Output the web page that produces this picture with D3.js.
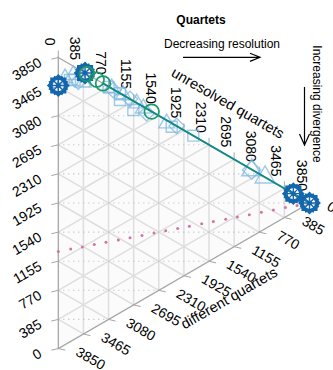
<!DOCTYPE html>
<html><head><meta charset="utf-8">
<script src="https://cdn.jsdelivr.net/npm/d3@7"></script>
<style>body{margin:0;background:#fff}svg{display:block}text{font-family:"Liberation Sans",Arial,Helvetica,sans-serif;fill:#000}</style>
</head><body><svg id="c" width="333" height="370"></svg>
<script>
// ---- data (quartet counts: A = left axis, B = unresolved, C = different) ----
const total = 3850;
const tickValues = [0,385,770,1155,1540,1925,2310,2695,3080,3465,3850];
const tickLabels = ["0","385","770","1155","1540","1925","2310","2695","3080","3465","3850"];
const titleText = "Quartets";
const axisTitleB = "unresolved quartets";
const axisTitleC = "different quartets";
const arrowTextH = "Decreasing resolution";
const arrowTextV = "Increasing divergence";

const darkA = [3480, 3440, 248, 0];
const darkB = [0, 410, 3602, 3850];
const darkC = [370, 0, 0, 0];

const lightA = [3523,3463,3504,3376,3430,3330,3063,3031,2904,3000,2854,2817,2751,2643,2580,2526,2434,2149,2065,2035,1781,879,879,682];
const lightB = [103,179,230,306,250,380,766,818,946,843,996,946,1099,1202,1150,1303,1355,1661,1738,1815,2069,2964,2964,3168];
const lightC = [224,208,117,167,170,140,3,0,0,8,0,89,0,5,120,21,61,40,47,0,0,7,7,0];
const lightShape = ["tri","sq","tri","dia","sq","tri","sq","tri","sq","dia","tri","sq","dia","tri","sq","tri","dia","tri","sq","dia","sq","dia","tri","tri"];

const greenA = [3415, 3261, 3165, 2419];
const greenB = [435, 589, 685, 1431];
const greenC = [0, 0, 0, 0];

const lineA = [3165, 0];
const lineB = [685, 3850];
const lineC = [0, 0];

const pinkA = [1283,1220,1160,1099,1039,976,917,855,794,734,673,614,551,491,428,369,307,246,184,124,64,0];
const pinkB = [0,190,368,552,731,920,1099,1283,1467,1646,1830,2008,2198,2376,2566,2744,2928,3112,3296,3480,3659,3850];
const pinkC = [2567,2440,2322,2199,2080,1954,1834,1712,1589,1470,1347,1228,1101,983,856,737,615,492,370,246,127,0];

// ---- geometry ----
const Tx = 58.3, Ty = 57.5, W = 251.2, H = 291;
const bx = d3.scaleLinear().domain([0,total]).range([0,W]);
const by = d3.scaleLinear().domain([0,total]).range([0,H/2]);
const cy = d3.scaleLinear().domain([0,total]).range([0,H]);
function P(A,B,C){ const s=A+B+C; const b=B*total/s, c=C*total/s; return [Tx+bx(b), Ty+by(b)+cy(c)]; }

const svg = d3.select("#c");
const vTop = P(total,0,0), vRight = P(0,total,0), vBottom = P(0,0,total);

svg.append("path").attr("d", d3.line()([vTop,vRight,vBottom])+"Z").attr("fill","#fbfbfb").attr("stroke","none");

const g = svg.append("g").attr("stroke","#dedede").attr("stroke-width",1.5).attr("fill","none");
tickValues.slice(1,-1).forEach(v=>{
  g.append("path").attr("d", d3.line()([P(total-v,v,0), P(0,v,total-v)]));
  g.append("path").attr("d", d3.line()([P(v,total-v,0), P(v,0,total-v)]));
  g.append("path").attr("d", d3.line()([P(total-v,0,v), P(0,total-v,v)]));
});
const hg = svg.append("g").attr("stroke","#b8b8b8").attr("stroke-width",1.1).attr("stroke-dasharray","1,4").attr("fill","none");
tickValues.slice(1,-1).forEach(v=>{
  const y = Ty + cy(v);
  let xr;
  if (y <= vRight[1]) xr = Tx + (y-Ty)/(vRight[1]-Ty)*(vRight[0]-Tx);
  else xr = Tx + (vBottom[1]-y)/(vBottom[1]-vRight[1])*(vRight[0]-Tx);
  hg.append("path").attr("d", d3.line()([[Tx,y],[xr,y]]));
});

svg.append("path").attr("d", d3.line()([vTop,vRight,vBottom])+"Z").attr("fill","none").attr("stroke","#a6a6a6").attr("stroke-width",1.3);

const tk = svg.append("g").attr("stroke","#a6a6a6").attr("stroke-width",1);
const lab = svg.append("g").attr("font-size",14);
tickValues.forEach((v,i)=>{
  let p = P(v,0,total-v);
  tk.append("line").attr("x1",p[0]).attr("y1",p[1]).attr("x2",p[0]-7).attr("y2",p[1]+1.7);
  let q = [p[0]-18, p[1]+3.5];
  lab.append("text").attr("transform",`translate(${q[0]},${q[1]}) rotate(-30)`).attr("text-anchor","end").attr("dominant-baseline","central").text(tickLabels[i]);
  p = P(total-v,v,0);
  tk.append("line").attr("x1",p[0]).attr("y1",p[1]).attr("x2",p[0]).attr("y2",p[1]-7);
  q = [p[0]-8, p[1]-12];
  lab.append("text").attr("transform",`translate(${q[0]},${q[1]}) rotate(90)`).attr("text-anchor","end").attr("dominant-baseline","central").text(tickLabels[i]);
  p = P(0,total-v,v);
  tk.append("line").attr("x1",p[0]).attr("y1",p[1]).attr("x2",p[0]+7).attr("y2",p[1]+1.7);
  q = [p[0]+19, p[1]+2];
  lab.append("text").attr("transform",`translate(${q[0]},${q[1]}) rotate(30)`).attr("text-anchor","start").attr("dominant-baseline","central").text(tickLabels[i]);
});

svg.append("text").attr("transform","translate(228,103) rotate(30)").attr("text-anchor","middle").attr("dominant-baseline","central").attr("font-size",14.5).text(axisTitleB);
svg.append("text").attr("transform","translate(229,298) rotate(-30)").attr("text-anchor","middle").attr("dominant-baseline","central").attr("font-size",14.5).text(axisTitleC);

svg.append("g").selectAll("circle").data(pinkA.map((a,i)=>P(a,pinkB[i],pinkC[i]))).join("circle")
  .attr("cx",d=>d[0]).attr("cy",d=>d[1]).attr("r",1.5).attr("fill","#d174a8");

const shapeMap = {tri:[d3.symbolTriangle,0,110], sq:[d3.symbolSquare,0,120], dia:[d3.symbolSquare,45,120]};
svg.append("g").selectAll("path").data(lightA.map((a,i)=>({p:P(a,lightB[i],lightC[i]), s:lightShape[i], big:i>=21}))).join("path")
  .attr("transform",d=>`translate(${d.p[0]},${d.p[1]}) rotate(${shapeMap[d.s][1]})`)
  .attr("d",d=>d3.symbol(shapeMap[d.s][0], d.big?170:shapeMap[d.s][2])())
  .attr("fill","none").attr("stroke","#80b8e2").attr("stroke-width",1.4).attr("stroke-opacity",0.75);

svg.append("path").attr("d", d3.line()(lineA.map((a,i)=>P(a,lineB[i],lineC[i])))).attr("fill","none").attr("stroke","#0f8a86").attr("stroke-width",2);

const dk = svg.append("g").attr("fill","none").attr("stroke","#1467ad").attr("stroke-width",2);
darkA.forEach((a,i)=>{
  const p = P(a,darkB[i],darkC[i]);
  const gg = dk.append("g").attr("transform",`translate(${p[0]},${p[1]})`);
  gg.append("path").attr("d",d3.symbol(d3.symbolCircle,200)());
  gg.append("path").attr("d",d3.symbol(d3.symbolSquare,200)());
  gg.append("path").attr("transform","rotate(45)").attr("d",d3.symbol(d3.symbolSquare,200)());
  gg.append("path").attr("transform","rotate(22.5)").attr("d",d3.symbol(d3.symbolSquare,170)());
  gg.append("path").attr("transform","rotate(-22.5)").attr("d",d3.symbol(d3.symbolSquare,170)());
  gg.append("path").attr("d","M-8,0H8M0,-8V8M-6,-6L6,6M-6,6L6,-6").attr("stroke-width",1.4);
  gg.append("circle").attr("r",2.5).attr("fill","#1467ad").attr("stroke","none");
});

svg.append("g").selectAll("circle").data(greenA.map((a,i)=>P(a,greenB[i],greenC[i]))).join("circle")
  .attr("cx",d=>d[0]).attr("cy",d=>d[1]).attr("r",7.3).attr("fill","none").attr("stroke","#1a9a6c").attr("stroke-width",1.7);

svg.append("text").attr("x",201).attr("y",20).attr("text-anchor","middle").attr("dominant-baseline","central").attr("font-size",12).attr("font-weight","bold").text(titleText);
svg.append("text").attr("x",222).attr("y",44).attr("text-anchor","middle").attr("dominant-baseline","central").attr("font-size",12).text(arrowTextH);
svg.append("text").attr("transform","translate(316.5,104) rotate(90)").attr("text-anchor","middle").attr("dominant-baseline","central").attr("font-size",12).text(arrowTextV);
const ar = svg.append("g").attr("stroke","#000").attr("stroke-width",1.2).attr("fill","none");
ar.append("path").attr("d","M183,57.3H260M250,53.2L260,57.3L250,61.4");
ar.append("path").attr("d","M304.5,87V145M299.5,134L304.5,145L309.5,134");
</script></body></html>
